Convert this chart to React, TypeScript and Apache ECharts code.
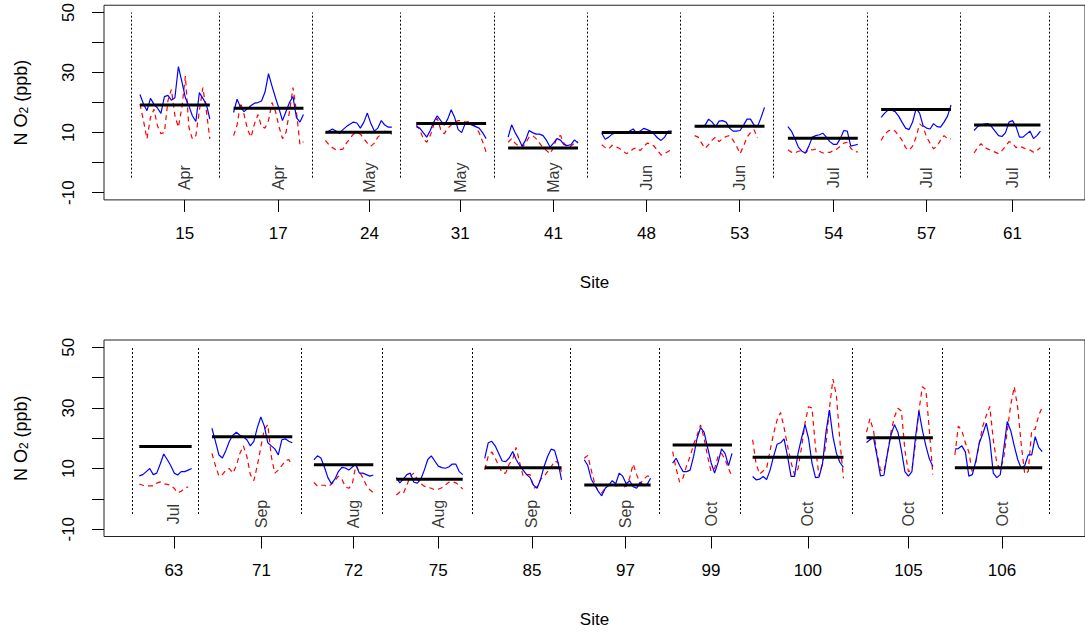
import React, { useEffect, useRef } from "react";
import * as echarts from "echarts";

const FONT = "'Liberation Sans', Arial, Helvetica, sans-serif";

// ---------- top panel ----------
const sitesTop = ["15", "17", "24", "31", "41", "48", "53", "54", "57", "61"];
const monthsTop = ["Apr", "Apr", "May", "May", "May", "Jun", "Jun", "Jul", "Jul", "Jul"];
const meansTop = [19.2, 18.1, 10.1, 13.0, 4.9, 10.0, 12.1, 8.1, 17.7, 12.5];
const startTop = [10.3, 37.1, 63.4, 89.4, 115.7, 142.5, 169.1, 195.8, 222.5, 249.1];
const tickTop = [23.1, 49.9, 76.0, 102.0, 128.7, 155.3, 182.0, 208.9, 235.5, 260.1];
const sepTop = [7.7, 32.9, 59.7, 84.9, 111.7, 138.3, 165.1, 191.7, 218.6, 245.1, 270.6];
const blueTop = [
  [22.7, 19.5, 17.3, 21.4, 19.5, 18.2, 16.4, 22, 22.4, 20.8, 21.6, 32, 27, 21.6, 18.9, 15.6, 13.7, 23.3, 21.4, 19.5, 14.5],
  [16.7, 21.1, 18.4, 17, 18, 19, 19.8, 20, 20.5, 23.5, 29.6, 25.5, 21.6, 18, 14, 17, 20, 22, 15, 13.5, 16],
  [9.8, 10.5, 11.2, 10.5, 9.8, 11, 12, 12.8, 13.5, 13.2, 11.5, 13.5, 16.5, 13, 10.5, 11.5, 14, 12.5, 11.8, 11.8],
  [12, 11.5, 10, 8.5, 10.7, 13.5, 15.6, 14, 12.5, 14.5, 17.6, 15, 11, 10, 13, 13, 12.5, 12, 11.5, 10, 8],
  [8.5, 12.6, 10, 8, 5.5, 7.5, 10.7, 10, 9.5, 9.5, 9, 7.4, 5.2, 6.5, 8, 7.5, 6, 5.7, 6, 7.6, 6.5],
  [9.8, 7.8, 8.5, 9.5, 10, 10.3, 10, 9.8, 10.5, 11.2, 9.8, 10.5, 11.4, 11, 10.5, 9.5, 8.2, 7.4, 8.5, 10.5, 10.5],
  [12, 12, 12, 12.5, 14.5, 13.5, 12, 13.8, 14, 13.5, 11.5, 10.5, 10.5, 10.7, 12.5, 14.5, 14.5, 12.5, 12, 15, 18.4],
  [12, 10.5, 8, 5.2, 3.8, 3.2, 5.5, 8.5, 9, 9.3, 9.8, 8.5, 7, 6.1, 6.1, 8, 10.7, 10.5, 5.5, 5.8, 6.1],
  [15.1, 16.5, 17.5, 17.5, 17, 15.5, 13.4, 11.5, 11, 13.5, 18, 16.5, 12.3, 11.5, 11.2, 13, 12, 11.8, 13.5, 15.5, 19.2],
  [10.7, 12, 12.6, 12.8, 13, 12, 10.5, 9, 8.7, 10, 13.5, 14, 12, 8.5, 8.5, 9.5, 10.5, 8, 9, 10.5],
];
const redTop = [
  [19.5, 14, 7.9, 15, 17.8, 12.3, 9.6, 10.1, 20.6, 24.4, 15.6, 11.8, 18.4, 28.8, 11.8, 7.9, 9, 17.3, 25, 17.3, 7.9],
  [9, 12.5, 20, 16, 11, 8.5, 13, 16, 12, 11.5, 14, 20, 17, 12, 8, 10, 17, 25, 17, 6, 7],
  [7.4, 6, 5, 4.3, 4.3, 4.5, 6.5, 8, 9.5, 10, 9.5, 8, 6.5, 5.5, 6.5, 8.5, 9.5, 10.5, 10, 9.5],
  [12.6, 11, 8, 6.8, 9, 12.5, 14.8, 11, 9.6, 11.5, 12.5, 13.5, 14, 14, 13.5, 13.7, 13, 12, 10, 7, 3.5],
  [6.8, 8, 6.5, 5.5, 5, 6.5, 8.5, 9, 8, 6.5, 5, 4, 3, 5, 8.5, 9, 6.5, 5, 5.5, 6.5, 7],
  [6, 5, 4.6, 5.8, 5.3, 4.8, 4, 3, 3.5, 4.6, 5, 4, 5.3, 6.5, 6.2, 5.5, 4, 2.5, 3, 3.7, 4.3],
  [9, 8.5, 6.5, 4.8, 6, 7.5, 8.5, 7, 8, 8.7, 9, 7.5, 5.5, 3, 5.5, 8.5, 10, 11, 8.2, null, null],
  [4.3, 3.5, 3.2, 3.8, 4, 3.2, 4.5, 4.2, 4.5, 3.8, 3.2, 3.5, 3.4, 4, 4.5, 5.5, 6.5, 6.8, 4.8, 3.8, 3.5],
  [7.4, 9.5, 10.5, 11, 10.5, 9, 7.4, 5, 4.1, 5.5, 8.5, 12.9, 12, 8.5, 6.5, 4.6, 5.5, 7.5, 9, 8, 7.9],
  [3.2, 5, 6.3, 5, 4.5, 4, 3.5, 3, 4, 5.5, 7, 6.5, 5, 5.5, 5, 4.5, 4.2, 3.5, 4, 5],
];

// ---------- bottom panel ----------
const sitesBot = ["63", "71", "72", "75", "85", "97", "99", "100", "105", "106"];
const monthsBot = ["Jul", "Sep", "Aug", "Aug", "Sep", "Sep", "Oct", "Oct", "Oct", "Oct"];
const meansBot = [17.3, 20.5, 11.3, 6.5, 10.3, 4.6, 17.8, 13.7, 20.2, 10.3];
const startBot = [10.1, 30.9, 60.1, 83.7, 109.0, 137.5, 162.8, 185.7, 218.3, 243.6];
const tickBot = [20.0, 45.1, 71.4, 95.7, 122.5, 149.3, 173.8, 201.5, 230.3, 257.1];
const sepBot = [8.1, 27.1, 56.6, 79.8, 105.5, 133.5, 159.1, 182.1, 214.3, 240.0, 270.5];
const blueBot = [
  [7.6, 8, 9, 10, 8, 8.5, 11.5, 14.8, 13, 11, 8.5, 7.9, 9, 9, 9.5, 10],
  [23.3, 19, 14.5, 13.5, 16, 19, 21, 22, 21, 20.5, 19.5, 17.5, 19, 23.5, 27, 24, 18.5, 17.5, 16.5, 14.5, 19.5, 19.8, 19, 18.5],
  [12.9, 14.2, 13.5, 10.5, 7, 5, 6.5, 9, 10.4, 10.2, 9.5, 10.5, 11.5, 8.5, 8.5, 8, 7.5, 7.9],
  [7, 5.3, 6.5, 8, 8.5, 5.5, 5.2, 6.5, 9.5, 13, 14.2, 12.5, 10.8, 10.3, 10.1, 10.5, 11.5, 11.5, 9, 8],
  [13.4, 18.5, 19, 17.5, 15, 12.5, 12.3, 13.5, 15.6, 13, 11, 9.5, 8, 7, 4.5, 3.5, 6.5, 10.7, 14, 16.4, 16, 12, 6.3],
  [12.9, 11, 6.5, 4.5, 2.5, 1, 3.5, 4.5, 6, 5, 8.5, 7.5, 5, 6, 4, 3.5, 5.5, 4.5, 4.8, 6.8],
  [11.8, 13.4, 11, 9, 9, 9.5, 14, 20, 23.5, 22, 17, 12, 8.5, 12, 16.5, 15, 11, 15],
  [7.4, 6.3, 6.5, 7.4, 6.4, 9.5, 14, 18, 18.5, 19.8, 14, 7.4, 7.4, 15, 20, 24.5, 20, 11.8, 7, 7.2, 11.5, 22, 29.3, 20.5, 15, 12, 10.4],
  [18.6, 19.5, 20.3, 14.2, 7.6, 7.8, 15, 21, 24.5, 22, 16, 9, 7.5, 9, 20, 29, 22.7, 17.5, 13.2, 10.7],
  [16.4, 16.6, 17.5, 15.5, 7.5, 8, 12.5, 18.5, 21.5, 25, 19.5, 8.5, 7, 8, 16.5, 25.5, 22.5, 17.5, 13, 10, 11, 14.5, 14.5, 20.5, 17, 15.6],
];
const redBot = [
  [4.9, 4.5, 4.3, 4.3, 4.3, 5.2, 5.6, 5, 4.8, 4.5, 3.5, 2, 2.5, 3.5, 4, null],
  [15, 11, 7.5, 8, 9.5, 10, 8.5, 11, 15, 17.5, 14, 8, 6, 11, 17, 23, 24.5, 14, 8.5, 9.5, 11, 12.5, 13, 11],
  [5.4, 4.2, 4.5, 4.5, 4, 4.8, 6, 7.5, 6.5, 4, 3.5, 5, 11, 9, 7, 4.5, 3, 2.1],
  [1.3, 2.3, 1.8, 4.5, 7.5, 8.5, 6.5, 5, 4.2, 3.8, 3.5, 3, 3.2, 3.7, 4.5, 5.5, 5.7, 5.3, 4.5, 3.2],
  [9.6, 14, 15.5, 13.5, 11, 8.5, 8.5, 11.5, 13, 17, 12, 7.5, 8, 8, 3.5, 4, 6.5, 7.5, 9, 10.5, 12.5, 12, 9],
  [13.4, 14.3, 9.5, 5, 2.5, 2, 3.5, 4.5, 4.5, 4.2, 4.5, 3.8, 4.2, 7, 11.5, 8, 5, 6.5, 7.5, 7.5],
  [15.6, 10, 5.5, 7, 11, 14, 18, 21, 24.4, 20, 14, 9, 10, 14, 15, 13, 10, 7.4],
  [19.5, 11.5, 8.2, 9.2, 10, 16, 21.5, 26, 28.5, 23.5, 17.5, 12, 8, 10, 17, 25, 30.4, 30, 17, 7.5, 11.8, 18, 30, 39.5, 34, 19, 6.8],
  [22, 26.5, 22.5, 15, 9.5, 9, 15, 22, 27, 29.9, 29, 16, 9, 9.5, 18, 29, 37, 36, 22.5, 8],
  [14.5, 24, 22.5, 18.5, 15.5, 8.5, 12, 18.5, 24, 27.5, 30.5, 19.5, 11.8, 9.7, 13.5, 22.5, 31, 37, 30, 18, 8.2, 9, 22.7, 23, 27.5, 30.2],
];

const yTicks = [-10, 0, 10, 20, 30, 40, 50];
const yLabels = [-10, 10, 30, 50];
const MONTH_Y = -5;
const SEP_RANGE = [-5, 50];

const GRID_W = 983;
const GRID_H = 196.5;
const X_MAX = GRID_W / 3.5;

function panelSeries(p: number, sites: string[], months: string[], starts: number[], ticks: number[], seps: number[], means: number[], blues: (number | null)[][], reds: (number | null)[][]) {
  const out: any[] = [];
  sites.forEach((s, i) => {
    const st = starts[i];
    const n = blues[i].length;
    out.push({
      type: "line",
      xAxisIndex: p,
      yAxisIndex: p,
      data: reds[i].map((v, k) => [st + k, v == null ? "-" : v]),
      symbol: "none",
      lineStyle: { color: "#ff0000", width: 1.2, type: [5, 4] },
      silent: true,
      z: 2,
    });
    const blue: any = {
      type: "line",
      xAxisIndex: p,
      yAxisIndex: p,
      data: blues[i].map((v, k) => [st + k, v]),
      symbol: "none",
      lineStyle: { color: "#0000ff", width: 1.2 },
      silent: true,
      z: 3,
    };
    if (i === 0) {
      blue.markLine = {
        silent: true,
        symbol: ["none", "none"],
        label: { show: false },
        lineStyle: { color: "#000", width: 1, type: [2, 2] },
        data: seps.map((x) => [{ coord: [x, SEP_RANGE[0]] }, { coord: [x, SEP_RANGE[1]] }]),
      };
    }
    out.push(blue);
    out.push({
      type: "line",
      xAxisIndex: p,
      yAxisIndex: p,
      data: [
        [st, means[i]],
        [st + n - 1, means[i]],
      ],
      symbol: "none",
      lineStyle: { color: "#000", width: 3 },
      silent: true,
      z: 4,
    });
  });
  out.push({
    type: "scatter",
    xAxisIndex: p,
    yAxisIndex: p,
    symbol: "circle",
    symbolSize: 1,
    itemStyle: { color: "rgba(255,255,255,0)" },
    silent: true,
    data: ticks.map((t, i) => ({ value: [t, MONTH_Y], name: months[i] })),
    label: {
      show: true,
      formatter: "{b}",
      rotate: 90,
      position: "inside",
      align: "center",
      verticalAlign: "middle",
      fontSize: 16,
      color: "#000",
      fontFamily: FONT,
    },
    z: 5,
  });
  return out;
}

function xAxisFor(p: number, ticks: number[], sites: string[]) {
  return {
    type: "value",
    gridIndex: p,
    min: 0,
    max: X_MAX,
    axisLine: { show: false, onZero: false },
    splitLine: { show: false },
    axisTick: { show: true, length: 12, customValues: ticks, lineStyle: { color: "#000", width: 1 } },
    axisLabel: {
      customValues: ticks,
      formatter: (v: number) => {
        const i = ticks.findIndex((t) => Math.abs(t - v) < 0.01);
        return i >= 0 ? sites[i] : "";
      },
      margin: 25,
      fontSize: 17,
      color: "#000",
      fontFamily: FONT,
    },
    name: "Site",
    nameLocation: "middle",
    nameGap: 74,
    nameTextStyle: { fontSize: 17, color: "#000", fontFamily: FONT },
  };
}

function yAxisFor(p: number) {
  return {
    type: "value",
    gridIndex: p,
    min: -12.4,
    max: 52.4,
    axisLine: { show: false, onZero: false },
    splitLine: { show: false },
    axisTick: { show: true, length: 12, customValues: yTicks, lineStyle: { color: "#000", width: 1 } },
    axisLabel: {
      customValues: yLabels,
      rotate: 90,
      margin: 27,
      fontSize: 17,
      color: "#000",
      fontFamily: FONT,
    },
    name: "{a|N O}{s|2}{a| (ppb)}",
    nameLocation: "middle",
    nameRotate: 90,
    nameGap: 74,
    nameTextStyle: {
      fontFamily: FONT,
      rich: {
        a: { fontSize: 18, color: "#000", fontFamily: FONT, lineHeight: 22, verticalAlign: "bottom" },
        s: { fontSize: 12, color: "#000", fontFamily: FONT, lineHeight: 22, verticalAlign: "bottom", padding: [7, 0, 0, 0] },
      },
    },
  };
}

export default function App() {
  const ref = useRef<HTMLDivElement>(null);
  useEffect(() => {
    if (!ref.current) return;
    const chart = echarts.init(ref.current, undefined, { renderer: "svg" });
    const option: any = {
      animation: false,
      backgroundColor: "#ffffff",
      grid: [
        { left: 104, top: 3.4, width: GRID_W, height: GRID_H, show: true, borderColor: "#222", borderWidth: 1, backgroundColor: "transparent" },
        { left: 104, top: 340, width: GRID_W, height: GRID_H, show: true, borderColor: "#222", borderWidth: 1, backgroundColor: "transparent" },
      ],
      xAxis: [xAxisFor(0, tickTop, sitesTop), xAxisFor(1, tickBot, sitesBot)],
      yAxis: [yAxisFor(0), yAxisFor(1)],
      series: [
        ...panelSeries(0, sitesTop, monthsTop, startTop, tickTop, sepTop, meansTop, blueTop, redTop),
        ...panelSeries(1, sitesBot, monthsBot, startBot, tickBot, sepBot, meansBot, blueBot, redBot),
      ],
    };
    chart.setOption(option);
    return () => chart.dispose();
  }, []);
  return (
    <div
      ref={ref}
      style={{ position: "absolute", left: 0, top: 0, width: 1085, height: 635, background: "#fff" }}
    />
  );
}
